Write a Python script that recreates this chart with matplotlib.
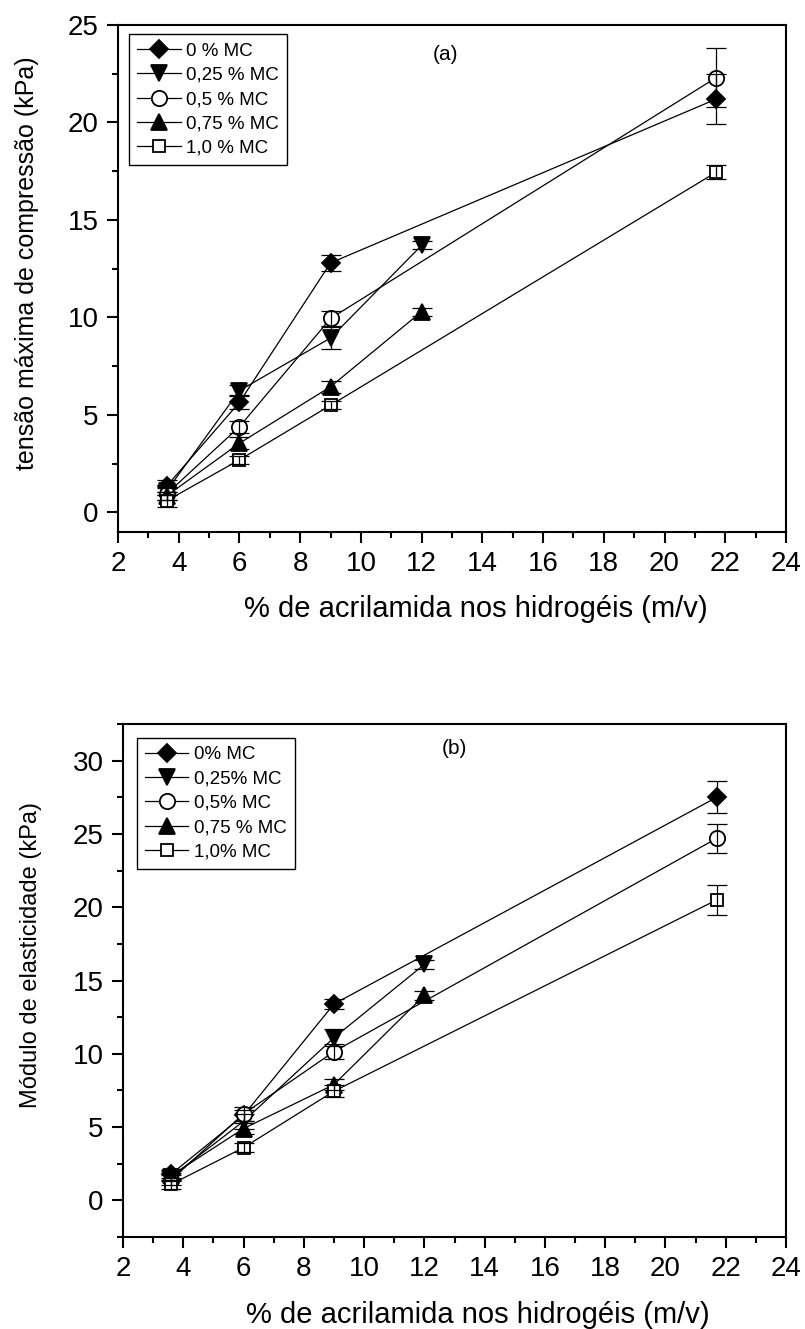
import matplotlib.pyplot as plt
from matplotlib.ticker import MultipleLocator

plt.rcParams['font.family'] = ['Liberation Sans', 'DejaVu Sans']

# x positions (% acrilamida)
x_full = [3.6, 6, 9, 21.7]
x_short = [3.6, 6, 9, 12]

# (a) tensão máxima de compressão (kPa)
a_labels = ['0 % MC', '0,25 % MC', '0,5 % MC', '0,75 % MC', '1,0 % MC']
a_x = [x_full, x_short, x_full, x_short, x_full]
a_y = [[1.35, 5.65, 12.8, 21.2],
       [1.1, 6.25, 8.95, 13.7],
       [0.95, 4.4, 9.95, 22.3],
       [0.85, 3.55, 6.45, 10.3],
       [0.6, 2.7, 5.5, 17.45]]
a_err = [[0.3, 0.35, 0.4, 1.3],
         [0.2, 0.3, 0.55, 0.2],
         [0.3, 0.3, 0.4, 1.5],
         [0.2, 0.3, 0.3, 0.2],
         [0.3, 0.2, 0.2, 0.35]]

# (b) módulo de elasticidade (kPa)
b_labels = ['0% MC', '0,25% MC', '0,5% MC', '0,75 % MC', '1,0% MC']
b_x = [x_full, x_short, x_full, x_short, x_full]
b_y = [[1.8, 5.8, 13.4, 27.5],
       [1.6, 5.4, 11.1, 16.1],
       [1.4, 5.9, 10.15, 24.7],
       [1.7, 4.9, 7.9, 14.0],
       [1.1, 3.6, 7.45, 20.5]]
b_err = [[0.3, 0.4, 0.35, 1.1],
         [0.3, 0.5, 0.6, 0.3],
         [0.35, 0.45, 0.5, 1.0],
         [0.3, 0.4, 0.4, 0.3],
         [0.3, 0.3, 0.4, 1.0]]

markers = ['D', 'v', 'o', '^', 's']
faces = ['black', 'black', 'white', 'black', 'white']
msizes = [9, 11, 11, 11, 8.5]


def draw_panel(ax, xs, ys, errs, labels, tag, tag_xy, ylim, ylabel, ylabel_size,
               ylabel_pos, leg_anchor):
    for i in range(len(xs)):
        ax.plot(xs[i], ys[i], color='black', lw=0.9, marker=markers[i],
                ms=msizes[i], mfc=faces[i], mec='black', mew=1.3,
                label=labels[i], zorder=3)
        ax.errorbar(xs[i], ys[i], yerr=errs[i], fmt='none', ecolor='black',
                    elinewidth=0.9, capsize=7.5, capthick=0.9, zorder=4)

    ax.set_xlim(2, 24)
    ax.set_ylim(*ylim)
    ax.xaxis.set_major_locator(MultipleLocator(2))
    ax.xaxis.set_minor_locator(MultipleLocator(1))
    ax.yaxis.set_major_locator(MultipleLocator(5))
    ax.yaxis.set_minor_locator(MultipleLocator(2.5))
    ax.tick_params(which='both', direction='out', width=1.5, top=False, right=False)
    ax.tick_params(which='major', length=8, labelsize=20, pad=6)
    ax.tick_params(which='minor', length=4.5)
    for s in ax.spines.values():
        s.set_linewidth(1.5)

    ax.set_xlabel('% de acrilamida nos hidrogéis (m/v)', fontsize=21, labelpad=14)
    ax.xaxis.set_label_coords(0.535, -0.125)
    ax.set_ylabel(ylabel, fontsize=ylabel_size)
    ax.yaxis.set_label_coords(*ylabel_pos)
    ax.text(tag_xy[0], tag_xy[1], tag, fontsize=15, ha='center', va='center')

    leg = ax.legend(loc='upper left', bbox_to_anchor=leg_anchor, borderaxespad=0,
                    fontsize=13.5, fancybox=False, framealpha=1, edgecolor='black',
                    handlelength=2.3, handletextpad=0.3, labelspacing=0.38,
                    borderpad=0.45, numpoints=1, markerscale=1.0)
    leg.get_frame().set_linewidth(1.0)


fig = plt.figure(figsize=(8.05, 13.29), dpi=100)
ax1 = fig.add_axes([0.1466, 0.5997, 0.8298, 0.3815])
ax2 = fig.add_axes([0.1528, 0.0692, 0.8236, 0.386])

draw_panel(ax1, a_x, a_y, a_err, a_labels, '(a)', (12.8, 23.5), (-1, 25),
           'tensão máxima de compressão (kPa)', 18, (-0.119, 0.53), (0.0165, 0.982))
draw_panel(ax2, b_x, b_y, b_err, b_labels, '(b)', (13.0, 30.8), (-2.5, 32.5),
           'Módulo de elasticidade (kPa)', 17, (-0.122, 0.55), (0.021, 0.973))

fig.savefig('out.png', dpi=100)
